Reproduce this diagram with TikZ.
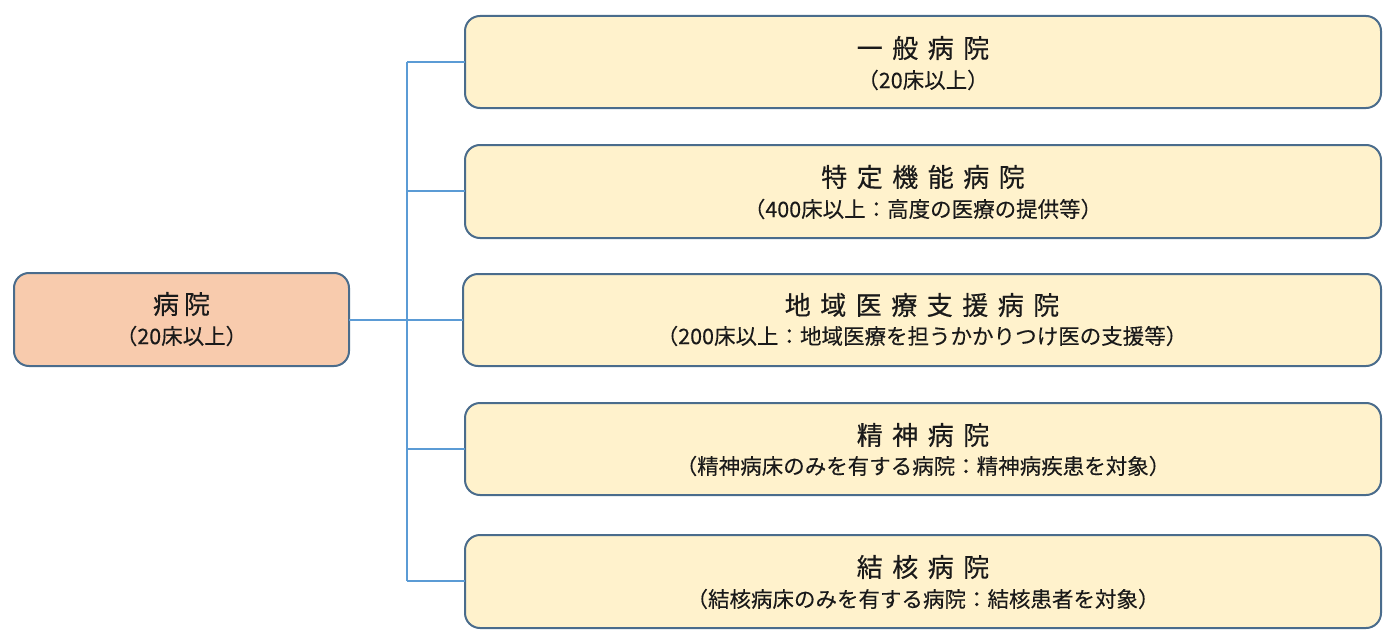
\documentclass[tikz,border=0pt]{standalone}
\usepackage{fontspec}
\setmainfont{Noto Sans CJK JP}
\newfontfamily\ttlfont[FakeBold=0.5]{Noto Sans CJK JP}
\newfontfamily\subfont[FakeBold=0.15]{Noto Sans CJK JP}
\newcommand\gp{\hspace{9.5pt}}
\definecolor{bordc}{HTML}{4A6C8C}
\definecolor{linec}{HTML}{5B9BD5}
\definecolor{rootfill}{HTML}{F8CBAD}
\definecolor{leaffill}{HTML}{FFF2CC}
\definecolor{txt}{HTML}{1A1A1A}
\tikzset{
  box/.style={draw=bordc,line width=2pt,rounded corners=15pt},
  rootbox/.style={box,fill=rootfill},
  leafbox/.style={box,fill=leaffill},
  ttl/.style={font=\ttlfont\fontsize{26}{29}\selectfont,text=txt,inner sep=0pt},
  sub/.style={font=\subfont\fontsize{21.5}{24}\selectfont,text=txt,inner sep=0pt},
  conn/.style={draw=linec,line width=1.8pt}
}
\begin{document}
\begin{tikzpicture}[x=1pt,y=-1pt]
\useasboundingbox (0,0) rectangle (1397,642);
% root
\path[rootbox] (14,273) rectangle (349,366);
\coordinate (rootE) at (349,320);
\node[ttl] (rt) at (181.5,304) {病\hspace{5pt}院};
\node[sub] (rs) at (181.5,336) {（20床以上）};
% leaves
\path[leafbox] (465,16) rectangle (1381,108);
\coordinate (l1W) at (465,62);
\node[ttl] (t1) at (923,48) {一\gp 般\gp 病\gp 院};
\node[sub] (s1) at (923,80) {（20床以上）};

\path[leafbox] (465,145) rectangle (1381,238);
\coordinate (l2W) at (465,191);
\node[ttl] (t2) at (923,177) {特\gp 定\gp 機\gp 能\gp 病\gp 院};
\node[sub] (s2) at (923,209) {（400床以上：高度の医療の提供等）};

\path[leafbox] (463,274) rectangle (1381,366);
\coordinate (l3W) at (463,320);
\node[ttl] (t3) at (922,305) {地\gp 域\gp 医\gp 療\gp 支\gp 援\gp 病\gp 院};
\node[sub] (s3) at (922,336) {（200床以上：地域医療を担うかかりつけ医の支援等）};

\path[leafbox] (465,403) rectangle (1381,495);
\coordinate (l4W) at (465,449);
\node[ttl] (t4) at (923,435) {精\gp 神\gp 病\gp 院};
\node[sub] (s4) at (923,466) {（精神病床のみを有する病院：精神病疾患を対象）};

\path[leafbox] (465,535) rectangle (1381,628);
\coordinate (l5W) at (465,581);
\node[ttl] (t5) at (923,567) {結\gp 核\gp 病\gp 院};
\node[sub] (s5) at (923,599) {（結核病床のみを有する病院：結核患者を対象）};
% connectors
\coordinate (bus1) at (407,62);
\coordinate (bus5) at (407,581);
\draw[conn] (bus1) -- (bus5);
\draw[conn] (rootE) -- (l3W);
\draw[conn] (bus1) -- (l1W);
\draw[conn] (407,191) -- (l2W);
\draw[conn] (407,449) -- (l4W);
\draw[conn] (bus5) -- (l5W);
\end{tikzpicture}
\end{document}
